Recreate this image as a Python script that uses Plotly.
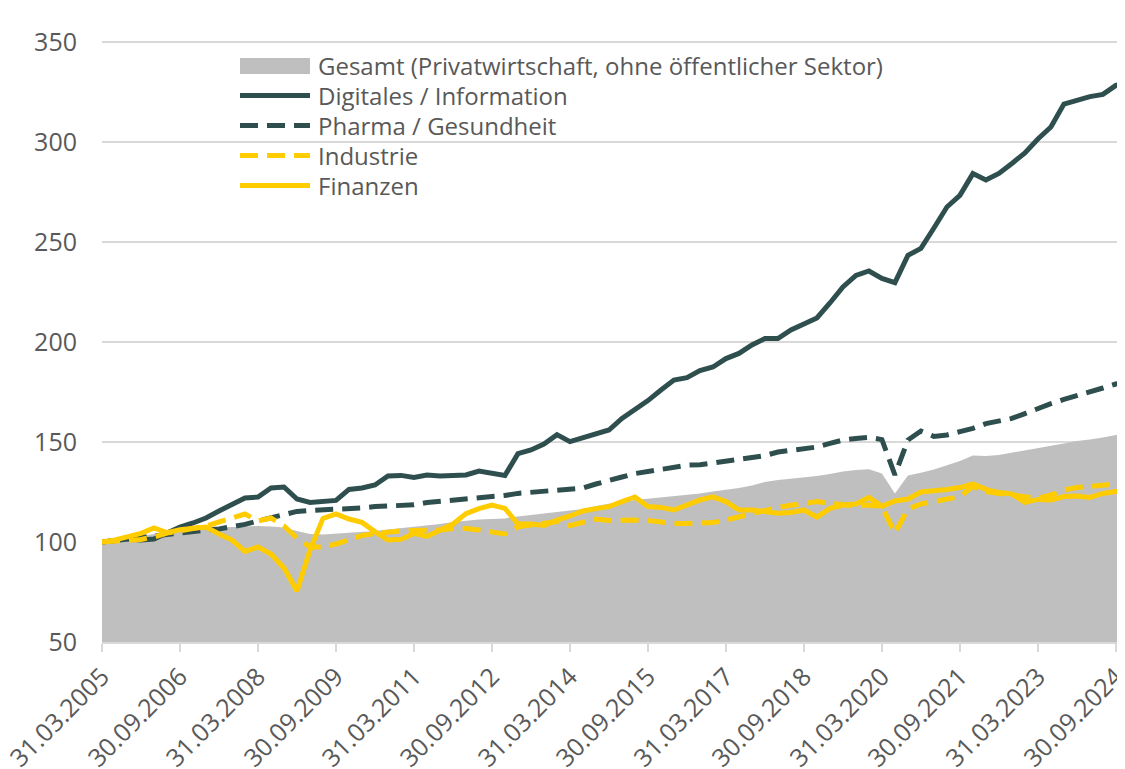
import plotly.graph_objects as go

# Quarter-end dates 31.03.2005 ... 31.12.2024
quarter_ends = ["31.03", "30.06", "30.09", "31.12"]
years = list(range(2005, 2025))
dates = [f"{q}.{y}" for y in years for q in quarter_ends]

tick_idx = list(range(0, 80, 6))
tick_labels = [dates[i] for i in tick_idx]
y_ticks = [50, 100, 150, 200, 250, 300, 350]

gesamt = [100, 101, 102, 103, 104, 105, 106, 106.5, 107, 107.3,
          107.5, 107.8, 108, 107.8, 107.3, 105.5, 104, 103.8, 104.2, 104.8,
          105.2, 105.5, 106.3, 107, 107.6, 108.2, 109, 110, 110.8, 111.3,
          111.5, 111.8, 112.8, 113.5, 114.3, 115.2, 115.8, 116.5, 118, 119.3,
          120.3, 121, 121.6, 122.2, 122.8, 123.5, 124.3, 125.2, 126, 127,
          128.3, 130, 131, 131.6, 132.4, 133, 134, 135.2, 136, 136.4,
          134.3, 124.3, 133.3, 134.6, 136.3, 138.5, 140.5, 143.3, 143, 143.5,
          144.6, 146, 146.8, 148, 149.3, 150.5, 151.2, 152.3, 153.5, 154.3]

digitales = [100, 101, 101.5, 101, 101.5, 104.5, 107.5, 109.5, 112, 115.5,
             119, 122, 122.5, 127, 127.5, 121.5, 119.8, 120, 120.8, 126.3,
             127, 128.5, 133, 133.3, 132.3, 133.5, 133, 133.3, 133.5, 135.5,
             134.2, 133.3, 144.2, 146, 149, 153.7, 150.2, 152.3, 154.3, 156,
             161.8, 166, 170.7, 176, 181, 182.2, 185.7, 187.5, 191.7, 194.3,
             198.5, 201.7, 201.7, 206, 209, 212, 219.5, 227.5, 233.3, 235.5,
             231.8, 229.7, 243.3, 246.8, 257, 267.5, 273.3, 284.2, 281, 284.3,
             289.3, 294.5, 301.5, 307.5, 319, 321, 322.7, 323.8, 328.3, 330]

pharma = [100, 100.8, 101.5, 102, 103, 104, 105, 105.5, 106, 106.5,
          107.5, 108.8, 110.5, 112.3, 114, 115.3, 115.8, 116, 116.2, 116.8,
          117, 117.7, 118, 118.3, 118.6, 119.7, 120.2, 121.2, 121.7, 121.8,
          122.3, 123.3, 124.3, 124.8, 125.2, 125.7, 126.2, 127, 129, 130.5,
          132.5, 134.2, 135.2, 136, 137.6, 138.4, 138.6, 139.7, 140.7, 141.3,
          142.2, 143.2, 145, 145.7, 146.4, 147.5, 149.3, 151, 151.8, 152.3,
          151.2, 133.5, 151, 155.5, 152.8, 153.5, 155.2, 156.8, 159.2, 160.2,
          161.8, 164.2, 166.8, 169.2, 171.3, 173, 175.2, 177, 179, 180.5]

industrie = [100, 100.3, 100.8, 101.3, 102.5, 104.5, 105.5, 106.5, 108, 110,
             112, 114, 110.5, 112, 108, 102, 97.5, 97.5, 99, 101.3,
             103.3, 104.2, 105, 105.6, 105.8, 105.8, 106, 106.7, 106.7, 106,
             104.8, 104, 107.6, 108.5, 109.6, 110.2, 108.2, 109.6, 111.5, 110.7,
             111, 111, 110.7, 109.8, 109.3, 109.3, 109.6, 109.7, 111, 112.7,
             114.3, 116, 117.3, 118.4, 119, 120.2, 119.3, 118.5, 118, 118.5,
             117.7, 104.5, 116.5, 119, 120.2, 121.3, 122.7, 127.8, 125.2, 124.3,
             123.5, 122.7, 121.8, 123.5, 126, 127.2, 128, 128.5, 129, 129]

finanzen = [100, 101, 102.7, 104.3, 107, 104.7, 106.2, 106.8, 107.5, 104,
            101, 95.3, 97.5, 94, 87, 75.5, 96, 111.8, 114, 111.5,
            109.8, 105.2, 101, 101.3, 104.3, 102.8, 106, 109, 114.2, 116.7,
            118.5, 116.8, 109, 109, 108.3, 111, 113, 115.5, 116.7, 117.7,
            120.2, 122.5, 117.7, 117.3, 116, 118.5, 121, 122.6, 120.2, 116,
            116, 115.2, 114.4, 114.7, 116, 112.5, 116.8, 118.5, 119, 122.3,
            117.8, 120.5, 121.5, 125, 125.5, 126.3, 127.2, 129, 126.3, 124.7,
            124, 119.8, 121.3, 121, 122.7, 123, 122.3, 124.3, 125.2, 125.8]

series_names = ["Gesamt (Privatwirtschaft, ohne öffentlicher Sektor)",
                "Digitales / Information", "Pharma / Gesundheit",
                "Industrie", "Finanzen"]

DARK = "#2F4F4F"
YELLOW = "#FFCC00"
GRAY_FILL = "#BFBFBF"
GRID = "#D9D9D9"
TEXT = "#595959"
FONT = "Open Sans"
DASH = "18px,9px"
LW = 5

# The page body has an 8px margin, so the figure is sized/offset to fill the
# 1125x769 window exactly. Geometry below in figure pixels.
OFF = 8
W, H = 1125 - OFF, 769 - OFF
L, R, T, B = 94, 0, 32, 127
PW, PH = W - L - R, H - T - B


def px_x(X):  # X given in window pixels
    return (X - OFF - L) / PW


def px_y(Y):  # Y given in window pixels
    return (H - B - (Y - OFF)) / PH


x = list(range(len(dates)))

fig = go.Figure()
fig.add_trace(go.Scatter(
    x=x, y=gesamt, name=series_names[0], mode="lines",
    line=dict(width=0, color=GRAY_FILL), fill="tozeroy", fillcolor=GRAY_FILL,
    customdata=dates, hovertemplate="%{customdata}: %{y}<extra></extra>"))
fig.add_trace(go.Scatter(
    x=x, y=pharma, name=series_names[2], mode="lines",
    line=dict(width=LW, color=DARK, dash=DASH)))
fig.add_trace(go.Scatter(
    x=x, y=digitales, name=series_names[1], mode="lines",
    line=dict(width=LW, color=DARK)))
fig.add_trace(go.Scatter(
    x=x, y=industrie, name=series_names[3], mode="lines",
    line=dict(width=LW, color=YELLOW, dash=DASH)))
fig.add_trace(go.Scatter(
    x=x, y=finanzen, name=series_names[4], mode="lines",
    line=dict(width=LW, color=YELLOW)))

# custom legend (symbols wider than plotly's built-in ones)
leg_rows = [66, 95.5, 125.5, 155.5, 185.5]
sym_x0, sym_x1, text_x = 240, 310, 316
shapes = [dict(type="rect", xref="paper", yref="paper",
               x0=px_x(sym_x0), x1=px_x(sym_x1),
               y0=px_y(leg_rows[0] + 8), y1=px_y(leg_rows[0] - 8),
               fillcolor=GRAY_FILL, line=dict(width=0), layer="above")]
leg_styles = [(DARK, "solid"), (DARK, DASH), (YELLOW, DASH), (YELLOW, "solid")]
for (col, dsh), yrow in zip(leg_styles, leg_rows[1:]):
    shapes.append(dict(type="line", xref="paper", yref="paper",
                       x0=px_x(sym_x0), x1=px_x(sym_x1),
                       y0=px_y(yrow), y1=px_y(yrow),
                       line=dict(color=col, width=LW, dash=dsh), layer="above"))
annotations = [dict(text=name, xref="paper", yref="paper",
                    x=px_x(text_x), y=px_y(yrow), xanchor="left",
                    yanchor="middle", showarrow=False,
                    font=dict(size=24, color=TEXT, family=FONT))
               for name, yrow in zip(series_names, leg_rows)]

fig.update_layout(
    width=W, height=H,
    margin=dict(l=L, r=R, t=T, b=B),
    paper_bgcolor="white", plot_bgcolor="white",
    font=dict(family=FONT, size=25, color=TEXT),
    showlegend=False,
    shapes=shapes, annotations=annotations,
    xaxis=dict(range=[0, 78.7], tickmode="array", tickvals=tick_idx,
               ticktext=tick_labels, tickangle=-45, showgrid=False,
               showline=True, linecolor=GRID, linewidth=2,
               ticks="outside", ticklen=8, tickcolor=GRID, tickwidth=2,
               tickfont=dict(size=25, color=TEXT), zeroline=False,
               ticklabelstandoff=0, ticklabeloverflow="allow",
               automargin=False),
    yaxis=dict(range=[50, 351], tickmode="array", tickvals=y_ticks,
               showgrid=True, gridcolor=GRID, gridwidth=2, zeroline=False,
               showline=False, ticks="", tickfont=dict(size=25, color=TEXT),
               ticklabelstandoff=24, automargin=False),
)

fig.write_html("out.html")
